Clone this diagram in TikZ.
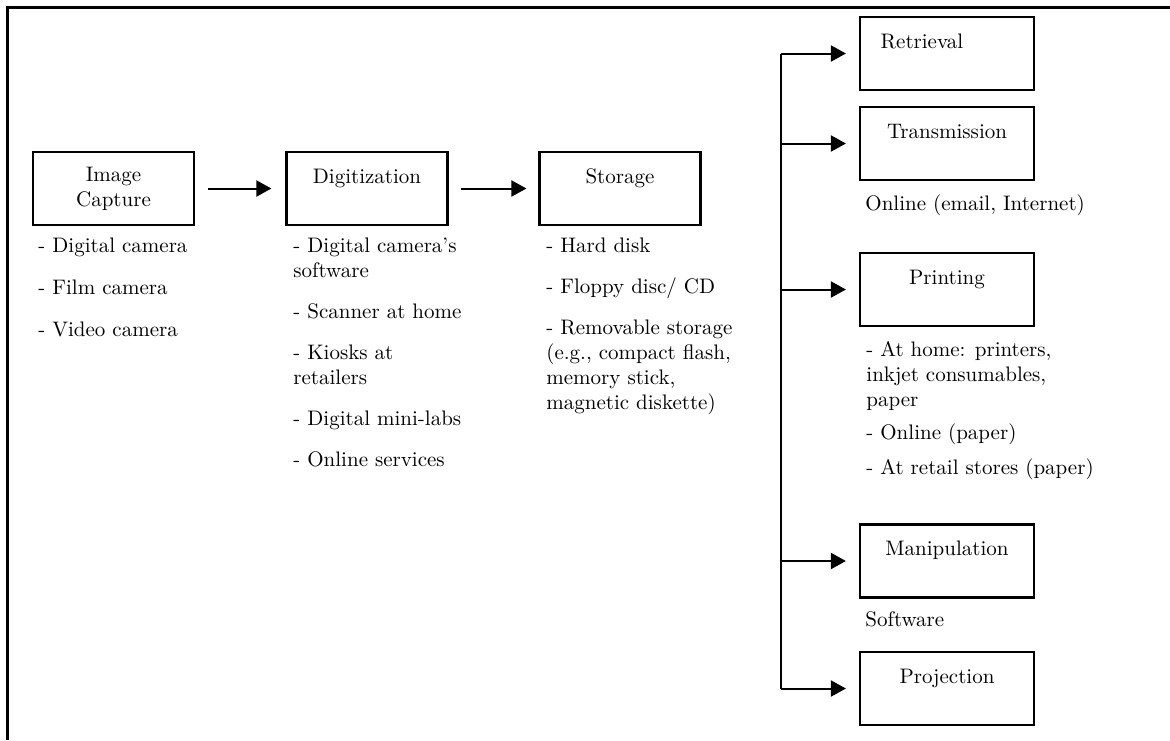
\documentclass[tikz,border=0pt]{standalone}
\usepackage{fontspec}
\usetikzlibrary{arrows.meta}
\tikzset{
  box/.style={draw, line width=1.1pt, minimum width=80.5pt, minimum height=36.5pt, align=center, inner sep=0pt},
  rbox/.style={box, minimum width=87pt},
  items/.style={anchor=north west, align=left, inner sep=0pt},
  arr/.style={-{Triangle[length=7.5pt,width=8pt]}, line width=1pt}
}
\begin{document}
\begin{tikzpicture}[x=0.5pt, y=-0.5pt, font=\fontsize{10.5}{12.5}\selectfont]
    \useasboundingbox (0,0) rectangle (1170,740);
    % frame
    \draw[line width=1.5pt] (7,740) -- (7,7) -- (1170,7);

    % left row
    \node[box] (cap) at (113.5, 188.5) {Image\\Capture};
    \node[box] (dig) at (367, 188.5) {Digitization\\\mbox{}};
    \node[box] (stor) at (620, 188.5) {Storage\\\mbox{}};

    \draw[arr, shorten <=6.5pt, shorten >=7pt] (cap) -- (dig);
    \draw[arr, shorten <=6pt, shorten >=6pt] (dig) -- (stor);

    % right column
    \node[rbox] (ret) at (947, 53.5) {Retrieval\hspace*{25pt}\\\mbox{}};
    \node[rbox] (trans) at (947, 143.5) {Transmission\\\mbox{}};
    \node[rbox] (print) at (947, 289.5) {Printing\\\mbox{}};
    \node[rbox] (manip) at (947, 561) {Manipulation\\\mbox{}};
    \node[rbox] (proj) at (947, 688.5) {Projection\\\mbox{}};

    \coordinate (trunk) at (781, 0);
    \draw[line width=1pt] (trunk |- ret.west) -- (trunk |- proj.west);
    \foreach \n in {ret, trans, print, manip, proj}
      \draw[arr, shorten >=6.5pt] (trunk |- \n.west) -- (\n.west);

    % lists
    \node[items] (caplist) at (38, 238) {- Digital camera\\[8.5pt]- Film camera\\[8.5pt]- Video camera};
    \node[items] (diglist) at (293, 238) {- Digital camera’s\\software\\[8pt]- Scanner at home\\[8pt]- Kiosks at\\retailers\\[8pt]- Digital mini-labs\\[8pt]- Online services};
    \node[items] (storlist) at (546, 238) {- Hard disk\\[8pt]- Floppy disc/ CD\\[8pt]- Removable storage\\(e.g., compact flash,\\memory stick,\\magnetic diskette)};
    \node[items] (translist) at (865, 194) {Online (email, Internet)};
    \node[items] (printlist) at (866, 341) {- At home: printers,\\inkjet consumables,\\paper\\[4pt]- Online (paper)\\[5pt]- At retail stores (paper)};
    \node[items] (maniplist) at (865, 611) {Software};
\end{tikzpicture}
\end{document}
